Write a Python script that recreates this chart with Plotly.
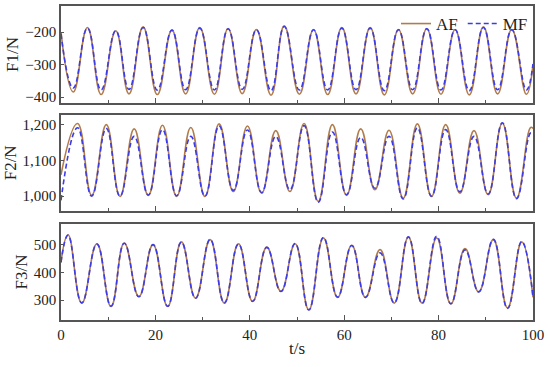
import plotly.graph_objects as go
from plotly.subplots import make_subplots

# ---------------- data (extrema of each oscillation) ----------------
# Panel 1: F1/N
f1_t = [0, 2.6, 5.6, 8.5, 11.6, 14.4, 17.4, 20.4, 23.5, 26.4, 29.4, 32.5, 35.4, 38.4, 41.4,
        44.5, 47.3, 50.5, 53.5, 56.5, 59.5, 62.5, 65.5, 68.5, 71.5, 74.5, 77.5, 80.5, 83.5,
        86.5, 89.5, 92.5, 95.5, 98.6, 100]
f1_af = [-200, -384, -186, -392, -196, -390, -184, -392, -194, -390, -186, -391, -189, -389, -192,
         -394, -181, -391, -192, -392, -186, -390, -186, -393, -192, -390, -189, -391, -192,
         -393, -184, -390, -192, -391, -300]
f1_mf = [-205, -372, -188, -378, -196, -376, -186, -378, -194, -377, -188, -378, -190, -376, -193,
         -380, -183, -378, -193, -378, -188, -377, -188, -380, -193, -377, -190, -378, -193,
         -380, -186, -377, -193, -378, -298]

# Panel 2: F2/N
f2_t = [0, 3.5, 6.5, 9.6, 12.5, 15.5, 18.5, 21.5, 24.5, 27.5, 30.5, 33.5, 36.5, 39.5, 42.5,
        45.5, 48.5, 51.5, 54.5, 57.5, 60.5, 63.5, 66.5, 69.5, 72.5, 75.5, 78.5, 81.5, 84.5,
        87.5, 90.5, 93.5, 96.5, 99.5, 100]
f2_af = [1060, 1204, 1002, 1201, 999, 1189, 1002, 1199, 999, 1193, 999, 1203, 1013, 1197, 1008,
         1184, 1013, 1204, 985, 1201, 1002, 1189, 1018, 1185, 994, 1203, 999, 1201, 1008,
         1184, 1004, 1205, 994, 1193, 1190]
f2_mf = [988, 1192, 1000, 1190, 1000, 1168, 1003, 1187, 1001, 1168, 1000, 1197, 1016, 1186, 1010,
         1168, 1018, 1198, 983, 1180, 1004, 1165, 1022, 1168, 992, 1192, 1000, 1187, 1012,
         1168, 1006, 1206, 993, 1178, 1176]

# Panel 3: F3/N
f3_t = [0, 1.5, 4.4, 7.6, 10.6, 13.4, 16.5, 19.5, 22.6, 25.5, 28.5, 31.6, 34.6, 37.6, 40.6,
        43.6, 46.6, 49.6, 52.5, 55.6, 58.6, 61.6, 64.5, 67.6, 70.6, 73.6, 76.5, 79.6, 82.6,
        85.6, 88.5, 91.6, 94.6, 97.6, 100]
f3_af = [438, 537, 289, 504, 277, 507, 313, 501, 277, 511, 307, 519, 289, 504, 295,
         492, 332, 504, 265, 525, 310, 499, 310, 483, 289, 528, 289, 525, 286,
         487, 330, 519, 272, 511, 310]
f3_mf = [436, 535, 290, 503, 278, 506, 312, 501, 278, 510, 307, 520, 290, 503, 296,
         491, 331, 505, 264, 527, 311, 498, 310, 471, 290, 529, 288, 531, 287,
         482, 330, 520, 270, 512, 311]

x_ticks = [0, 20, 40, 60, 80, 100]
y_titles = ["F1/N", "F2/N", "F3/N"]
y_ranges = [[-418, -120], [958, 1229], [228, 576]]
domains = [[0.691, 1.0], [0.347, 0.654], [0.0, 0.306]]

AF_COLOR = "#B07C4C"
MF_COLOR = "#3B3BEA"
FONT = "Liberation Serif, Times New Roman, serif"
AXIS_COLOR = "#555555"
TEXT_COLOR = "#222222"

fig = make_subplots(rows=3, cols=1, shared_xaxes=True)

panels = [(f1_t, f1_af, f1_mf), (f2_t, f2_af, f2_mf), (f3_t, f3_af, f3_mf)]
for i, (t, af, mf) in enumerate(panels):
    row = i + 1
    fig.add_trace(go.Scatter(x=t, y=af, mode="lines", name="AF",
                             line=dict(color=AF_COLOR, width=1.6, shape="spline", smoothing=1.3),
                             showlegend=(row == 1)), row=row, col=1)
    fig.add_trace(go.Scatter(x=t, y=mf, mode="lines", name="MF",
                             line=dict(color=MF_COLOR, width=1.6, dash="5px,3px",
                                       shape="spline", smoothing=1.3),
                             showlegend=(row == 1)), row=row, col=1)

for i in range(3):
    row = i + 1
    fig.update_xaxes(row=row, col=1, range=[0, 100], tickvals=x_ticks, automargin=False,
                     ticks="inside", ticklen=5, tickcolor=AXIS_COLOR,
                     minor=dict(dtick=10, ticks="inside", ticklen=3, tickcolor=AXIS_COLOR),
                     showline=True, mirror=True, linecolor=AXIS_COLOR, linewidth=1.5,
                     showgrid=False, zeroline=False,
                     tickfont=dict(family=FONT, size=15, color=TEXT_COLOR))
    fig.update_yaxes(row=row, col=1, range=y_ranges[i], dtick=100, tickformat=",d",
                     domain=domains[i], automargin=False,
                     ticks="inside", ticklen=3, tickcolor=AXIS_COLOR,
                     showline=True, mirror=True, linecolor=AXIS_COLOR, linewidth=1.5,
                     showgrid=False, zeroline=False,
                     title=dict(text=y_titles[i], font=dict(family=FONT, size=17, color=TEXT_COLOR),
                                standoff=2),
                     tickfont=dict(family=FONT, size=15, color=TEXT_COLOR))

fig.update_xaxes(row=3, col=1, title=dict(text="t/s", font=dict(family=FONT, size=17, color=TEXT_COLOR),
                                           standoff=0))

fig.update_layout(
    width=550, height=367,
    margin=dict(l=61, r=17, t=6, b=47),
    paper_bgcolor="white", plot_bgcolor="white",
    showlegend=True,
    legend=dict(orientation="h", x=1.0, xanchor="right", y=1.0, yanchor="top",
                bgcolor="rgba(0,0,0,0)", font=dict(family=FONT, size=17, color=TEXT_COLOR),
                itemwidth=30, tracegroupgap=0),
)

fig.write_html("out.html", config={"displayModeBar": False},
               post_script="document.body.style.margin='0px';")
